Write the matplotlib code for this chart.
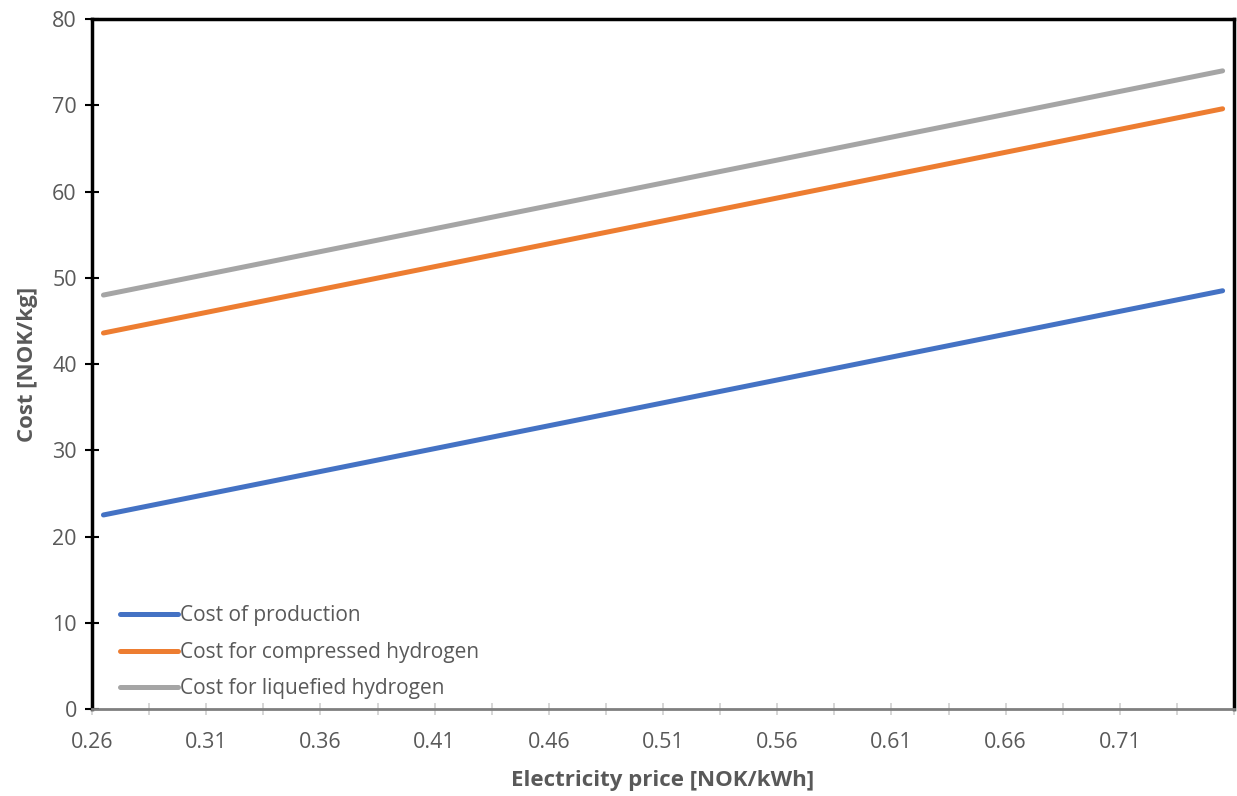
import matplotlib
matplotlib.use('Agg')
import matplotlib.pyplot as plt
import numpy as np

# electricity price [NOK/kWh] at the line ends
price = [0.265, 0.755]
production = [22.5, 48.5]
compressed = [43.6, 69.6]
liquefied = [48.0, 74.0]

series_names = ['Cost of production', 'Cost for compressed hydrogen',
                'Cost for liquefied hydrogen']
colors = ['#4472C4', '#ED7D31', '#A5A5A5']
xtick_vals = [0.26, 0.31, 0.36, 0.41, 0.46, 0.51, 0.56, 0.61, 0.66, 0.71]

plt.rcParams['font.family'] = ['Open Sans', 'DejaVu Sans']
grey = '#595959'

fig = plt.figure(figsize=(12.37, 7.96), dpi=100)
ax = fig.add_axes([0.0744, 0.1093, 0.9232, 0.8667])

for ys, name, c in zip([production, compressed, liquefied], series_names, colors):
    ax.plot(price, ys, color=c, lw=3.6, solid_capstyle='round', label=name)

ax.set_xlim(0.26, 0.76)
ax.set_ylim(0, 80)
ax.set_xticks(xtick_vals)
ax.set_xticklabels(['%.2f' % v for v in xtick_vals])
ax.set_xticks(np.arange(0.26, 0.7601, 0.025), minor=True)
ax.set_yticks(range(0, 81, 10))

for s in ['left', 'top', 'right']:
    ax.spines[s].set_linewidth(2.5)
    ax.spines[s].set_color('black')
ax.spines['bottom'].set_linewidth(2)
ax.spines['bottom'].set_color('#7f7f7f')

ax.tick_params(axis='y', direction='inout', length=10, width=1.5, color='black',
               labelcolor=grey, labelsize=15.5, pad=6)
ax.tick_params(axis='x', which='both', direction='inout', length=9, width=1.2,
               color='#d0d0d0', labelcolor=grey, labelsize=15.5, pad=12)
ax.tick_params(axis='x', which='minor', labelbottom=False)

ax.set_xlabel('Electricity price [NOK/kWh]', fontsize=16, fontweight='bold',
              color=grey, labelpad=12)
ax.set_ylabel('Cost [NOK/kg]', fontsize=16, fontweight='bold', color=grey,
              labelpad=10)

leg = ax.legend(loc='lower left', bbox_to_anchor=(0.008, -0.013), frameon=False,
                fontsize=15, handlelength=2.8, handletextpad=0.1,
                labelspacing=0.74)
for t in leg.get_texts():
    t.set_color(grey)

fig.savefig('out.png', dpi=100)
